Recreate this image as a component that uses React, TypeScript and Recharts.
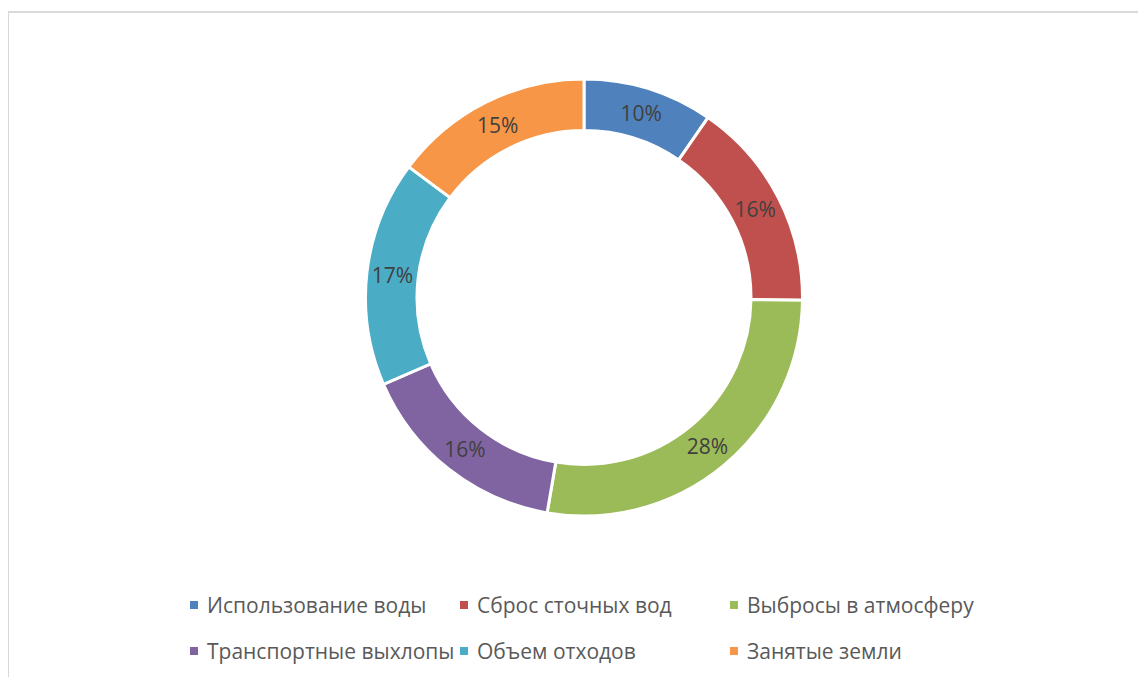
import React from "react";
import { PieChart, Pie, Cell, Legend } from "recharts";

const categories = [
  "Использование воды",
  "Сброс сточных вод",
  "Выбросы в атмосферу",
  "Транспортные выхлопы",
  "Объем отходов",
  "Занятые земли",
];
const values = [9.6, 15.6, 27.5, 15.8, 16.7, 14.8];
const colors = ["#4F81BD", "#C0504D", "#9BBB59", "#8064A2", "#4BACC6", "#F79646"];

const data = categories.map((name, i) => ({ name, value: values[i] }));

const FONT = "'Open Sans', 'Noto Sans', sans-serif";
const RAD = Math.PI / 180;

const renderLabel = (props: any) => {
  const { cx, cy, midAngle, innerRadius, outerRadius, percent } = props;
  const r = (innerRadius + outerRadius) / 2;
  const x = cx + r * Math.cos(-midAngle * RAD);
  const y = cy + r * Math.sin(-midAngle * RAD);
  return (
    <text
      x={x}
      y={y}
      fill="#404040"
      textAnchor="middle"
      dominantBaseline="central"
      style={{ fontFamily: FONT, fontSize: 21 }}
    >
      {`${Math.round(percent * 100)}%`}
    </text>
  );
};

const renderLegend = () => {
  return (
    <div
      style={{
        display: "flex",
        flexWrap: "wrap",
        width: 810,
        fontFamily: FONT,
        fontSize: 21,
        color: "#595959",
      }}
    >
      {categories.map((name, i) => (
        <div
          key={name}
          style={{
            width: 270,
            height: 46,
            display: "flex",
            alignItems: "center",
            whiteSpace: "nowrap",
          }}
        >
          <span
            style={{
              display: "inline-block",
              width: 8,
              height: 8,
              background: colors[i],
              marginRight: 9,
            }}
          />
          <span>{name}</span>
        </div>
      ))}
    </div>
  );
};

export default function App() {
  return (
    <div style={{ position: "relative", width: 1138, height: 669 }}>
      <div
        style={{
          position: "absolute",
          left: -1,
          top: 3,
          width: 1138,
          height: 680,
          borderTop: "2px solid #d9d9d9",
          borderLeft: "2px solid #d9d9d9",
          boxSizing: "border-box",
        }}
      />
      <div style={{ position: "absolute", left: 0, top: 0 }}>
        <PieChart width={1138} height={669}>
          <Pie
            data={data}
            dataKey="value"
            nameKey="name"
            cx={571}
            cy={284.5}
            innerRadius={167}
            outerRadius={218.5}
            startAngle={90}
            endAngle={-270}
            stroke="#ffffff"
            strokeWidth={3}
            label={renderLabel}
            labelLine={false}
            isAnimationActive={false}
          >
            {data.map((d, i) => (
              <Cell key={d.name} fill={colors[i]} />
            ))}
          </Pie>
          <Legend
            content={renderLegend}
            wrapperStyle={{ position: "absolute", left: 182, top: 574, width: 810 }}
          />
        </PieChart>
      </div>
    </div>
  );
}
